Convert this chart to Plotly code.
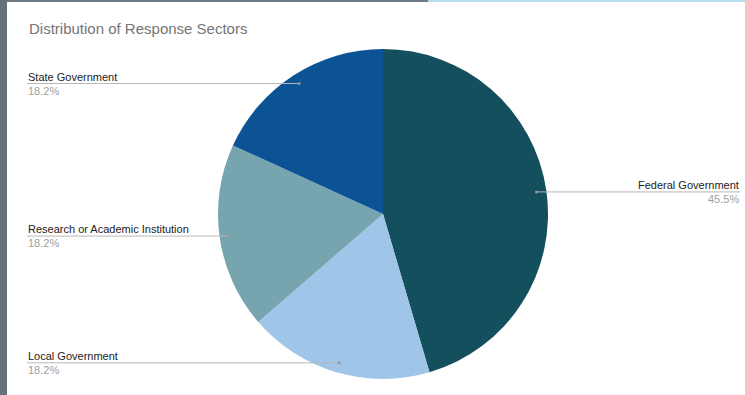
import math
import plotly.graph_objects as go

# ---- data ----
sectors = ["Federal Government", "Local Government", "Research or Academic Institution", "State Government"]
counts = [5, 2, 2, 2]
colors = ["#134f5c", "#9fc5e8", "#76a5af", "#0b5394"]
title_text = "Distribution of Response Sectors"

W, H = 745, 395
CX, CY, R = 383, 214, 165  # pie geometry in pixels


def px(x):
    return x / W


def py(y):
    return 1 - y / H


fig = go.Figure(go.Pie(
    labels=sectors, values=counts, sort=False, direction="clockwise", rotation=0,
    marker=dict(colors=colors, line=dict(width=0)),
    textinfo="none", hoverinfo="label+percent", showlegend=False,
    domain=dict(x=[px(CX - R), px(CX + R)], y=[py(CY + R), py(CY - R)]),
))

shapes = []
annotations = []
total = sum(counts)
cum = 0
for name, v in zip(sectors, counts):
    mid = (cum + v / 2) / total * 2 * math.pi
    cum += v
    dx = 0.94 * R * math.sin(mid)
    dy = -0.94 * R * math.cos(mid)
    ex, ey = CX + dx, CY + dy
    pct = f"{v / total * 100:.1f}%"
    if dx > 0:
        lx, anchor = 740, "right"
    else:
        lx, anchor = 27, "left"
    shapes.append(dict(type="line", xref="paper", yref="paper", x0=px(lx), x1=px(ex), y0=py(ey), y1=py(ey),
                       line=dict(color="#b7b7b7", width=1)))
    shapes.append(dict(type="circle", xref="paper", yref="paper", x0=px(ex - 1.5), x1=px(ex + 1.5),
                       y0=py(ey + 1.5), y1=py(ey - 1.5), fillcolor="#999999", line=dict(width=0)))
    annotations.append(dict(text=name, x=px(lx), y=py(ey), xref="paper", yref="paper", xanchor=anchor,
                            yanchor="bottom", showarrow=False, borderpad=0,
                            font=dict(size=11, color="#222222", family="Liberation Sans, Arial")))
    annotations.append(dict(text=pct, x=px(lx), y=py(ey), xref="paper", yref="paper", xanchor=anchor,
                            yanchor="top", showarrow=False, borderpad=0,
                            font=dict(size=11, color="#9e9e9e", family="Liberation Sans, Arial")))

annotations.append(dict(text=title_text, x=px(27), y=py(28), xref="paper", yref="paper", xanchor="left",
                        yanchor="middle", showarrow=False,
                        font=dict(size=15, color="#757575", family="Liberation Sans, Arial")))

# screenshot frame edges
shapes.insert(0, dict(type="rect", xref="paper", yref="paper", x0=0, x1=px(7), y0=0, y1=1,
                      fillcolor="#66727b", line=dict(width=0), layer="below"))
shapes.insert(0, dict(type="rect", xref="paper", yref="paper", x0=0, x1=px(428), y0=py(2), y1=1,
                      fillcolor="#6f7c85", line=dict(width=0), layer="below"))
shapes.insert(0, dict(type="rect", xref="paper", yref="paper", x0=px(428), x1=1, y0=py(2), y1=1,
                      fillcolor="#b5dcf0", line=dict(width=0), layer="below"))

fig.update_layout(
    width=W, height=H, margin=dict(l=0, r=0, t=0, b=0),
    paper_bgcolor="white", plot_bgcolor="white",
    shapes=shapes, annotations=annotations,
)
fig.write_html("out.html")
